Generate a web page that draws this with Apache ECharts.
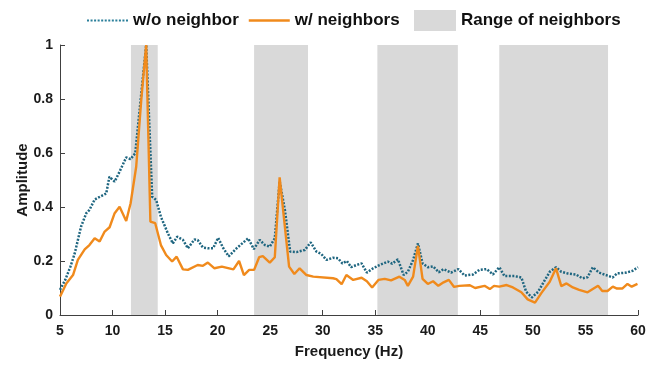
<!DOCTYPE html>
<html>
<head>
<meta charset="utf-8">
<script src="https://cdn.jsdelivr.net/npm/echarts@6/dist/echarts.min.js"></script>
<style>html,body{margin:0;padding:0;background:#fff}#c{width:667px;height:367px}</style>
</head>
<body>
<div id="c"></div>
<script>
// Data
var woFreq = [5.0,5.5,6.0,6.4,7.0,7.5,7.8,8.3,9.1,9.4,9.7,10.2,10.67,11.3,11.7,12.16,13.2,13.77,14.15,14.6,15.27,15.74,16.15,16.7,17.17,17.8,18.1,18.6,19.1,19.57,20.05,20.5,21.05,21.8,22.9,23.45,24.0,24.5,24.96,25.44,25.9,26.4,26.9,27.5,28.3,28.86,29.4,29.86,30.35,30.98,31.46,31.87,32.3,32.7,33.2,33.7,34.2,34.8,35.4,36.2,36.6,37.16,37.7,38.1,38.6,39.06,39.5,40.0,40.5,41.05,41.5,42.2,42.9,43.5,44.3,44.9,45.6,46.2,46.8,47.3,48.25,48.9,49.36,49.9,50.5,51.1,51.6,52.2,52.7,53.3,54.1,54.7,55.2,55.7,56.3,56.8,57.6,58.0,58.9,59.5,60.0];
var woAmp = [0.093,0.13,0.18,0.228,0.327,0.377,0.389,0.428,0.444,0.45,0.512,0.494,0.531,0.584,0.577,0.599,1.0,0.438,0.426,0.364,0.302,0.265,0.29,0.278,0.247,0.28,0.278,0.25,0.247,0.247,0.286,0.25,0.217,0.247,0.284,0.244,0.278,0.259,0.253,0.284,0.495,0.389,0.235,0.233,0.241,0.269,0.235,0.226,0.204,0.212,0.21,0.191,0.2,0.177,0.185,0.191,0.157,0.173,0.185,0.198,0.19,0.206,0.148,0.16,0.204,0.265,0.191,0.177,0.18,0.158,0.17,0.157,0.17,0.146,0.15,0.167,0.17,0.15,0.177,0.144,0.144,0.139,0.086,0.065,0.086,0.127,0.16,0.177,0.16,0.154,0.15,0.136,0.14,0.177,0.157,0.15,0.139,0.154,0.157,0.164,0.177];

var wFreq = [5.0,5.6,6.24,6.7,7.35,7.8,8.3,8.77,9.25,9.72,10.2,10.67,11.3,11.72,12.25,12.73,13.2,13.6,14.06,14.6,15.1,15.67,16.1,16.7,17.17,18.1,18.6,19.07,19.7,20.4,21.5,22.04,22.5,23.0,23.47,23.95,24.3,24.96,25.44,25.9,26.8,27.3,27.8,28.45,29.1,30.98,31.3,31.8,32.25,32.9,33.7,34.2,34.7,35.3,35.9,36.5,37.3,37.8,38.1,38.6,39.06,39.5,40.0,40.5,41.0,41.5,42.0,42.5,43.0,44.0,44.5,45.4,45.9,46.3,46.8,47.5,48.1,48.9,49.5,50.2,50.8,51.6,52.2,52.7,53.2,53.8,54.4,55.2,56.2,56.6,57.1,57.6,58.0,58.5,59.0,59.4,59.95];
var wAmp = [0.068,0.117,0.148,0.204,0.243,0.259,0.284,0.272,0.309,0.325,0.377,0.401,0.348,0.414,0.549,0.796,1.0,0.346,0.34,0.259,0.222,0.198,0.216,0.169,0.167,0.185,0.182,0.194,0.173,0.179,0.169,0.2,0.148,0.167,0.167,0.214,0.218,0.194,0.214,0.51,0.179,0.152,0.173,0.148,0.142,0.136,0.133,0.114,0.148,0.13,0.138,0.125,0.102,0.13,0.134,0.128,0.142,0.13,0.108,0.142,0.256,0.134,0.115,0.125,0.108,0.121,0.13,0.104,0.108,0.11,0.1,0.108,0.096,0.108,0.105,0.111,0.102,0.084,0.058,0.046,0.081,0.123,0.173,0.107,0.117,0.102,0.093,0.084,0.108,0.089,0.089,0.105,0.098,0.098,0.115,0.105,0.115];

var bandStart = [11.75,23.47,35.2,46.8];
var bandEnd = [14.3,28.6,42.86,57.15];

var seriesNames = ['w/o neighbor','w/ neighbors','Range of neighbors'];

function pairs(xs, ys){ return xs.map(function(x,i){ return [x, ys[i]]; }); }

// dotted legend icon (row of small squares)
var dotPath = 'path://';
for (var k = 0; k < 12; k++) { dotPath += 'M' + (k*3.5) + ',0h2v2h-2z'; }

var chart = echarts.init(document.getElementById('c'), null, {renderer:'canvas'});
var font = '"Liberation Sans", Arial, sans-serif';
var txt = '#1a1a1a';
var legendText = {fontFamily:font,fontWeight:'bold',fontSize:17,color:'#111',lineHeight:21};
chart.setOption({
  animation:false,
  backgroundColor:'#fff',
  grid:{left:60,right:29,top:45,bottom:52,containLabel:false},
  legend:[{
    left:82, top:5, itemWidth:41, itemHeight:2.5, itemGap:10,
    textStyle:legendText,
    data:[
      {name:seriesNames[0], icon:dotPath, itemStyle:{color:'#2a7f9a'}},
      {name:seriesNames[1], icon:'rect', itemStyle:{color:'#f08a1c'}}
    ]
  },{
    left:409, top:5, itemWidth:42, itemHeight:21,
    textStyle:legendText,
    data:[
      {name:seriesNames[2], icon:'rect', itemStyle:{color:'#d9d9d9'}}
    ]
  }],
  xAxis:{
    type:'value', min:5, max:60, interval:5,
    name:'Frequency (Hz)', nameLocation:'middle', nameGap:29, nameMoveOverlap:false,
    nameTextStyle:{fontFamily:font,fontWeight:'bold',fontSize:15,color:txt},
    axisLine:{lineStyle:{color:'#404040',width:1}},
    axisTick:{inside:true,length:5,lineStyle:{color:'#404040'}},
    axisLabel:{fontFamily:font,fontWeight:'bold',fontSize:14,color:txt,margin:9},
    splitLine:{show:false}
  },
  yAxis:{
    type:'value', min:0, max:1, interval:0.2,
    name:'Amplitude', nameLocation:'middle', nameGap:30, nameMoveOverlap:false,
    nameTextStyle:{fontFamily:font,fontWeight:'bold',fontSize:15,color:txt},
    axisLine:{show:true,lineStyle:{color:'#404040',width:1}},
    axisTick:{show:true,inside:true,length:5,lineStyle:{color:'#404040'}},
    axisLabel:{fontFamily:font,fontWeight:'bold',fontSize:14,color:txt,margin:7},
    splitLine:{show:false}
  },
  series:[
    {
      name:seriesNames[2], type:'line', data:[], z:1,
      itemStyle:{color:'#d9d9d9'},
      markArea:{
        silent:true,
        itemStyle:{color:'#d9d9d9',opacity:1},
        data:bandStart.map(function(s,i){ return [{xAxis:s},{xAxis:bandEnd[i]}]; })
      }
    },
    {
      name:seriesNames[0], type:'line', z:3, showSymbol:false, symbol:'none',
      data:pairs(woFreq,woAmp),
      itemStyle:{color:'#1f6680'},
      lineStyle:{color:'#1f6680',width:2.5,type:[2,1.5]}
    },
    {
      name:seriesNames[1], type:'line', z:4, showSymbol:false, symbol:'none',
      data:pairs(wFreq,wAmp),
      itemStyle:{color:'#f08a1c'},
      lineStyle:{color:'#f08a1c',width:2.4}
    }
  ]
});
</script>
</body>
</html>
